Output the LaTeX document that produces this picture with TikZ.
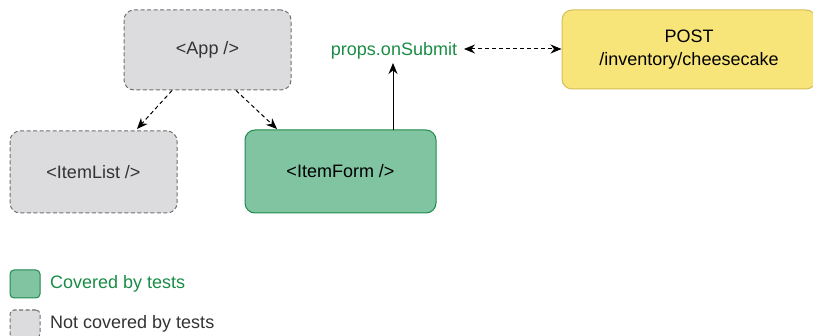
\documentclass[tikz,border=0pt]{standalone}
\usepackage{fontspec}
\setmainfont{Liberation Sans}
\usetikzlibrary{arrows.meta}
\definecolor{grayfill}{HTML}{DCDCDE}
\definecolor{grayline}{HTML}{707070}
\definecolor{greenfill}{HTML}{80C4A2}
\definecolor{greenline}{HTML}{1E8A4C}
\definecolor{greentext}{HTML}{1A8C45}
\definecolor{yellowfill}{HTML}{F8E57A}
\definecolor{yellowline}{HTML}{D4BE55}
\definecolor{txt}{HTML}{333333}
\tikzset{
  box/.style={rounded corners=10pt, minimum width=#1, inner sep=0pt, font=\fontsize{18}{23}\selectfont, text=txt, align=center},
  graybox/.style={box=#1, fill=grayfill, draw=grayline, line width=1pt, dash pattern=on 4pt off 2.5pt},
  greenbox/.style={box=#1, fill=greenfill, draw=greenline, line width=1pt},
  yellowbox/.style={box=#1, fill=yellowfill, draw=yellowline, line width=1pt, text=black},
  dasharrow/.style={-{Stealth[length=11pt,width=9pt]}, line width=1pt, dash pattern=on 4pt off 3pt},
  solidarrow/.style={-{Stealth[length=11pt,width=9pt]}, line width=1pt},
  lbl/.style={font=\fontsize{18}{23}\selectfont, inner sep=0pt},
}
\begin{document}
\begin{tikzpicture}[x=1pt,y=-1pt]
\useasboundingbox (0,0) rectangle (813,336);
\clip (0,0) rectangle (813,336);
\node[graybox=167pt, minimum height=80pt] (app) at (207.5,50) {<App />};
\node[graybox=167pt, minimum height=82pt] (list) at (93.5,172) {<ItemList />};
\node[greenbox=191pt, minimum height=83pt, text=black] (form) at (340.5,171.5) {<ItemForm />};
\node[yellowbox=254pt, minimum height=79pt] (post) at (689,49.5) {POST\\/inventory/cheesecake};
\node[lbl, text=greentext, anchor=base] (props) at (394,56) {props.onSubmit};
\coordinate (propsR) at (464,49);
\coordinate (formTop) at (393,130);
\coordinate (propsB) at (393,63);
\draw[dasharrow] (app.south -| 172,0) -- (137,129);
\draw[dasharrow] (app.south -| 236,0) -- (277,129);
\draw[solidarrow] (formTop) -- (propsB);
\draw[dasharrow, {Stealth[length=11pt,width=9pt]}-{Stealth[length=11pt,width=9pt]}] (propsR) -- (post.west |- propsR);
\node[greenbox=30pt, minimum height=28pt, rounded corners=4pt] (leg1) at (25,284) {};
\node[graybox=30pt, minimum height=28pt, rounded corners=4pt] (leg2) at (25,324) {};
\node[lbl, text=greentext, anchor=west] (leg1t) at (50,284) {Covered by tests};
\node[lbl, text=txt, anchor=west] (leg2t) at (50,324) {Not covered by tests};
\end{tikzpicture}
\end{document}
